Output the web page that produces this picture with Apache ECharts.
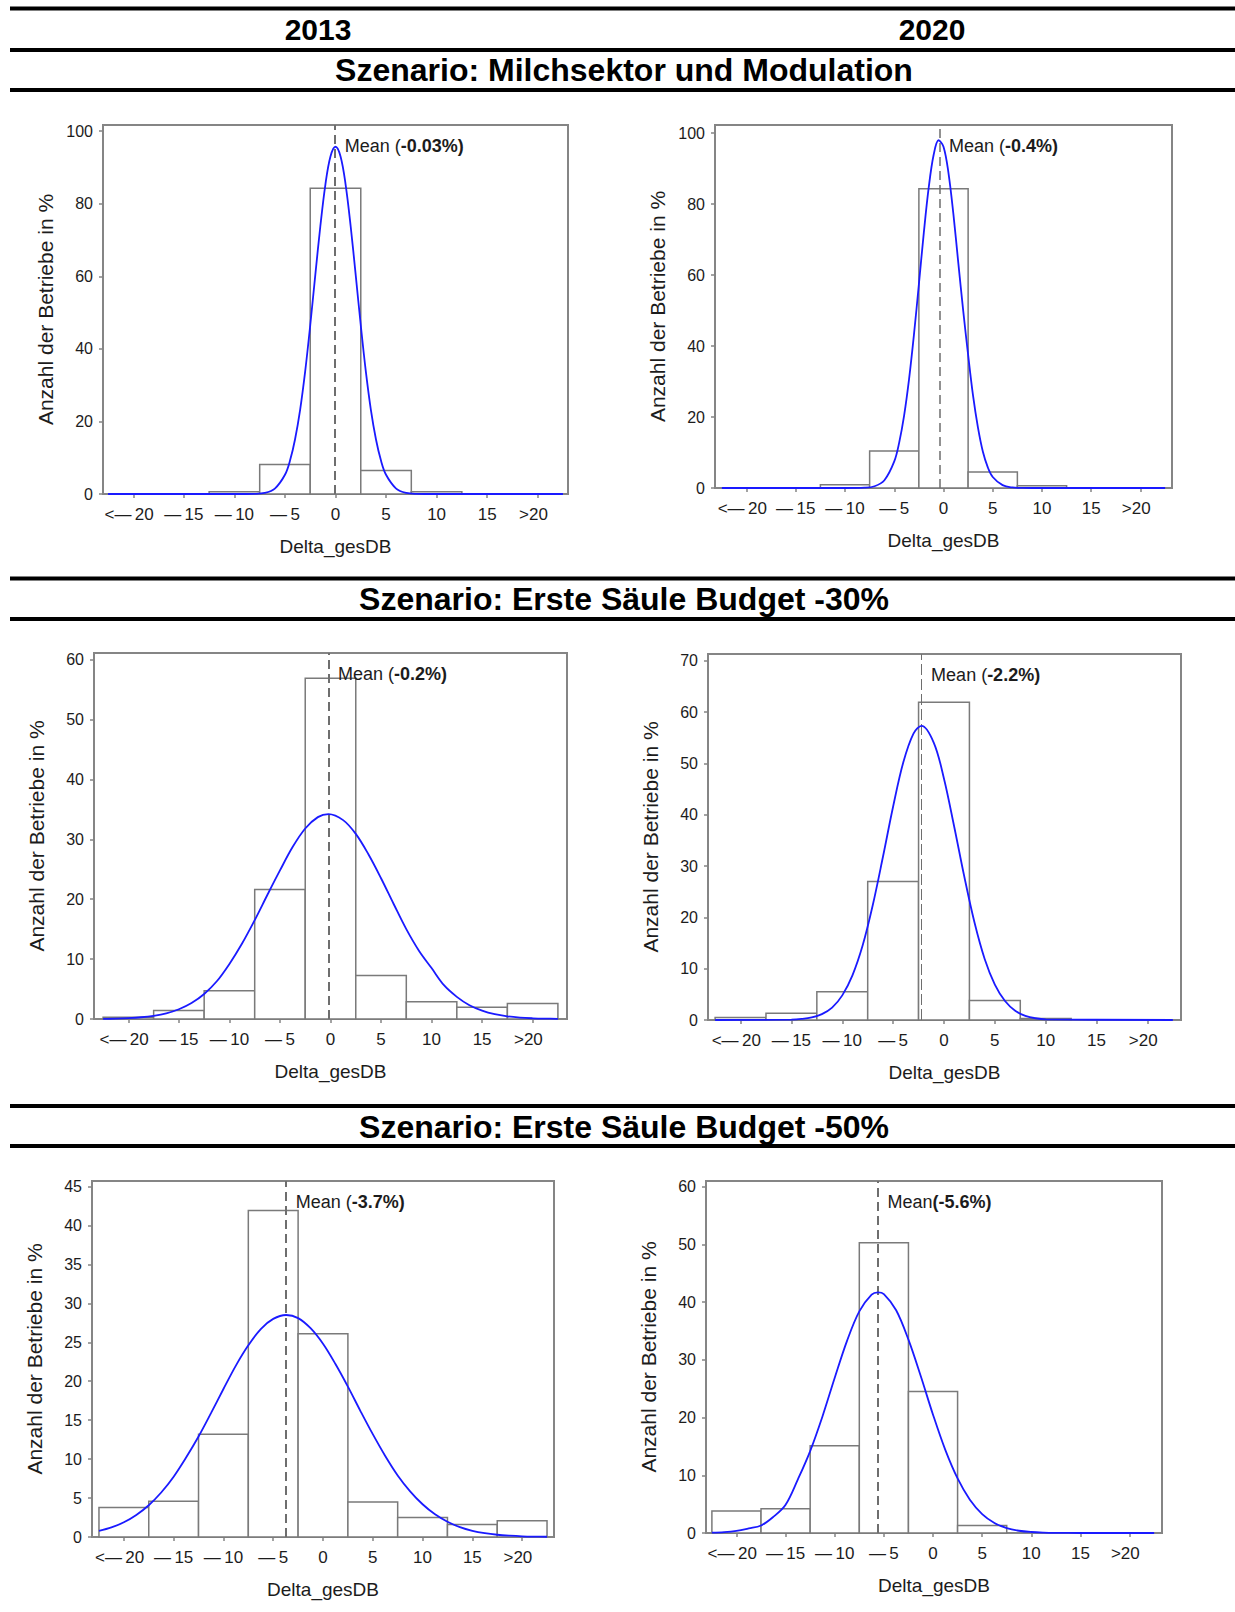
<!DOCTYPE html>
<html>
<head>
<meta charset="utf-8">
<script src="https://cdn.jsdelivr.net/npm/echarts@6/dist/echarts.min.js"></script>
<style>
  html, body { margin: 0; padding: 0; background: #fff; }
  #chart { width: 1235px; height: 1612px; }
</style>
</head>
<body>
<div id="chart"></div>
<script>
// classes of 5 %-points, centre of each class
const binCenters = [-20, -15, -10, -5, 0, 5, 10, 15, 20];
const xTicks = [-20, -15, -10, -5, 0, 5, 10, 15, 20];
const xTickLabels = ['<\u2014\u200920\u2002', '\u2014\u200915', '\u2014\u200910', '\u2014\u20095', '0', '5', '10', '15', '>20\u2002'];
const xTitle = 'Delta_gesDB';
const yTitle = 'Anzahl der Betriebe in %';
const years = ['2013', '2020'];
const scenarios = [
  'Szenario: Milchsektor und Modulation',
  'Szenario: Erste Säule Budget -30%',
  'Szenario: Erste Säule Budget -50%'
];

// share of farms per class (%)
const milch2013 = [0, 0, 0.6, 8.1, 84.3, 6.5, 0.6, 0, 0];
const milch2020 = [0, 0, 0.9, 10.4, 84.3, 4.5, 0.6, 0, 0];
const budget30_2013 = [0.3, 1.4, 4.7, 21.6, 56.9, 7.25, 2.9, 1.95, 2.6];
const budget30_2020 = [0.5, 1.3, 5.5, 27.0, 61.9, 3.8, 0.3, 0, 0];
const budget50_2013 = [3.8, 4.6, 13.2, 41.9, 26.1, 4.5, 2.5, 1.6, 2.1];
const budget50_2020 = [3.8, 4.2, 15.1, 50.3, 24.5, 1.3, 0, 0, 0];

// fitted normal curves
const curveMilch2013X = [-22.5, -10, -8, -7, -6, -5, -4.5, -4, -3.5, -3, -2.5, -2, -1.5, -1, -0.5, 0, 0.5, 1, 1.5, 2, 2.5, 3, 3.5, 4, 4.5, 5, 6, 7, 8, 10, 22.5];
const curveMilch2013Y = [0, 0, 0.05, 0.3, 1.5, 5.3, 9.2, 15.1, 23.2, 33.8, 46.5, 60.3, 73.8, 85.3, 93.0, 95.7, 93.0, 85.3, 73.8, 60.3, 46.5, 33.8, 23.2, 15.1, 9.2, 5.3, 1.5, 0.3, 0.05, 0, 0];
const curveMilch2020X = [-22.5, -10, -8, -7, -6, -5, -4.5, -4, -3.5, -3, -2.5, -2, -1.5, -1, -0.5, 0, 0.5, 1, 1.5, 2, 2.5, 3, 3.5, 4, 4.5, 5, 6, 7, 8, 10, 22.5];
const curveMilch2020Y = [0, 0, 0.09, 0.5, 2.2, 7.5, 12.8, 20.4, 30.6, 43.2, 57.4, 71.9, 84.7, 93.9, 98.0, 96.2, 88.9, 77.3, 63.5, 50.0, 37.5, 26.0, 17.0, 10.2, 5.8, 3.1, 0.8, 0.15, 0.02, 0, 0];
const curveB30_2013X = [-22.5, -21.25, -20, -18.75, -17.5, -16.25, -15, -13.75, -12.5, -11.25, -10, -8.75, -7.5, -6.25, -5, -3.75, -2.5, -1.25, -0.2, 1.25, 2.5, 3.75, 5, 6.25, 7.5, 8.75, 10, 11.25, 12.5, 13.75, 15, 16.25, 17.5, 18.75, 20, 21.25, 22.5];
const curveB30_2013Y = [0.03, 0.07, 0.15, 0.29, 0.54, 0.95, 1.63, 2.67, 4.18, 6.3, 9.2, 12.6, 16.5, 20.7, 24.8, 28.7, 31.8, 33.7, 34.2, 33.2, 30.9, 27.5, 23.5, 19.2, 15.0, 11.4, 8.5, 5.6, 3.7, 2.3, 1.4, 0.8, 0.44, 0.23, 0.12, 0.06, 0.03];
const curveB30_2020X = [-22.5, -15, -14, -13, -12, -11, -10, -9, -8, -7, -6, -5, -4, -3, -2.2, -1, 0, 1, 2, 3, 4, 5, 6, 7, 8, 9, 10, 22.5];
const curveB30_2020Y = [0, 0.07, 0.2, 0.49, 1.14, 2.4, 4.8, 8.7, 14.5, 22.4, 31.8, 41.6, 50.2, 55.8, 57.3, 54.0, 47.0, 37.7, 27.9, 19.0, 11.9, 6.9, 3.7, 1.8, 0.82, 0.34, 0.13, 0];
const curveB50_2013X = [-22.5, -21.25, -20, -18.75, -17.5, -16.25, -15, -13.75, -12.5, -11.25, -10, -8.75, -7.5, -6.25, -5, -3.7, -2.5, -1.25, 0, 1.25, 2.5, 3.75, 5, 6.25, 7.5, 8.75, 10, 11.25, 12.5, 13.75, 15, 16.25, 17.5, 18.75, 20, 21.25, 22.5];
const curveB50_2013Y = [0.78, 1.23, 1.89, 2.83, 4.08, 5.71, 7.74, 10.2, 12.9, 15.9, 19.0, 22.0, 24.6, 26.7, 28.0, 28.5, 28.1, 26.8, 24.8, 22.2, 19.3, 16.2, 13.2, 10.4, 7.9, 5.86, 4.2, 2.91, 1.96, 1.27, 0.8, 0.49, 0.29, 0.17, 0.09, 0.05, 0.03];
const curveB50_2020X = [-22.5, -21.25, -20, -18.75, -17.5, -16.25, -15, -13.75, -12.5, -11.25, -10, -8.75, -7.5, -6.25, -5.6, -5, -3.75, -2.5, -1.25, 0, 1.25, 2.5, 3.75, 5, 6.25, 7.5, 8.75, 10, 11.25, 12.5, 15, 22.5];
const curveB50_2020Y = [0.07, 0.16, 0.38, 0.8, 1.3, 2.8, 4.9, 9.3, 14.2, 20.2, 26.9, 33.3, 38.4, 41.3, 41.7, 41.4, 38.6, 33.5, 27.2, 20.5, 14.4, 9.45, 5.76, 3.28, 1.74, 0.86, 0.39, 0.17, 0.07, 0.03, 0, 0];

const means = [-0.03, -0.4, -0.2, -2.2, -3.7, -5.6];
const meanTexts = [['Mean (', '-0.03%)'], ['Mean (', '-0.4%)'], ['Mean (', '-0.2%)'], ['Mean (', '-2.2%)'], ['Mean (', '-3.7%)'], ['Mean', '(-5.6%)']];

const FONT = '"Liberation Sans", Arial, Helvetica, sans-serif';
const TEXT = '#1c1c1c';
const GRAY = '#858585';
const BLUE = '#1a1aff';
const BIN = 5;

// panel layout: [left, top, width, height]
const panels = [
  { box: [103, 125, 465, 369], x: [-23, 23], yMax: 101.7, yTicks: [0, 20, 40, 60, 80, 100], bars: milch2013, cx: curveMilch2013X, cy: curveMilch2013Y, dash: [9, 5], dashW: 2 },
  { box: [715, 125, 457, 363], x: [-23.2, 23.2], yMax: 102.3, yTicks: [0, 20, 40, 60, 80, 100], bars: milch2020, cx: curveMilch2020X, cy: curveMilch2020Y, dash: [9, 5], dashW: 1.5 },
  { box: [94, 653, 473, 366], x: [-23.4, 23.4], yMax: 61.1, yTicks: [0, 10, 20, 30, 40, 50, 60], bars: budget30_2013, cx: curveB30_2013X, cy: curveB30_2013Y, dash: [9, 5], dashW: 2 },
  { box: [708, 654, 473, 366], x: [-23.2, 23.3], yMax: 71.3, yTicks: [0, 10, 20, 30, 40, 50, 60, 70], bars: budget30_2020, cx: curveB30_2020X, cy: curveB30_2020Y, dash: [11, 4], dashW: 1 },
  { box: [92, 1181, 462, 356], x: [-23.2, 23.2], yMax: 45.7, yTicks: [0, 5, 10, 15, 20, 25, 30, 35, 40, 45], bars: budget50_2013, cx: curveB50_2013X, cy: curveB50_2013Y, dash: [9, 5], dashW: 2 },
  { box: [706, 1181, 456, 352], x: [-23.1, 23.3], yMax: 61.0, yTicks: [0, 10, 20, 30, 40, 50, 60], bars: budget50_2020, cx: curveB50_2020X, cy: curveB50_2020Y, dash: [9, 5], dashW: 2 }
];

function renderBar(params, api) {
  const x = api.value(0);
  const y = api.value(1);
  if (!y) return null;
  const a = api.coord([x - BIN / 2, y]);
  const b = api.coord([x + BIN / 2, 0]);
  return {
    type: 'rect',
    shape: { x: a[0], y: a[1], width: b[0] - a[0], height: b[1] - a[1] },
    style: { fill: '#fff', stroke: '#7a7a7a', lineWidth: 1.5 }
  };
}

const option = {
  animation: false,
  backgroundColor: '#fff',
  grid: [],
  xAxis: [],
  yAxis: [],
  series: [],
  graphic: []
};

panels.forEach((p, i) => {
  option.grid.push({
    left: p.box[0], top: p.box[1], width: p.box[2], height: p.box[3],
    show: true, borderColor: GRAY, borderWidth: 2, backgroundColor: 'transparent',
    containLabel: false, outerBoundsMode: 'none'
  });
  option.xAxis.push({
    type: 'value', gridIndex: i, min: p.x[0], max: p.x[1],
    name: xTitle, nameLocation: 'middle', nameGap: 43,
    nameTextStyle: { fontFamily: FONT, fontSize: 19, color: TEXT },
    axisLine: { show: true, onZero: false, lineStyle: { color: GRAY, width: 2 } },
    axisTick: { show: true, length: 4, customValues: xTicks, lineStyle: { color: GRAY, width: 1.5 } },
    axisLabel: {
      customValues: xTicks, margin: 12, fontFamily: FONT, fontSize: 17, color: TEXT,
      formatter: v => xTickLabels[xTicks.indexOf(v)]
    },
    splitLine: { show: false }
  });
  option.yAxis.push({
    type: 'value', gridIndex: i, min: 0, max: p.yMax,
    name: yTitle, nameLocation: 'middle', nameGap: 47,
    nameTextStyle: { fontFamily: FONT, fontSize: 21, color: TEXT },
    axisLine: { show: true, onZero: false, lineStyle: { color: GRAY, width: 2 } },
    axisTick: { show: true, length: 4, customValues: p.yTicks, lineStyle: { color: GRAY, width: 1.5 } },
    axisLabel: { customValues: p.yTicks, margin: 10, fontFamily: FONT, fontSize: 16, color: TEXT },
    splitLine: { show: false }
  });
  option.series.push({
    type: 'custom', xAxisIndex: i, yAxisIndex: i, silent: true, z: 2,
    renderItem: renderBar,
    data: binCenters.map((x, k) => [x, p.bars[k]])
  });
  option.series.push({
    type: 'line', xAxisIndex: i, yAxisIndex: i, silent: true, z: 5,
    data: p.cx.map((x, k) => [x, p.cy[k]]),
    showSymbol: false, smooth: 0.35,
    lineStyle: { color: BLUE, width: 1.8 },
    markLine: {
      silent: true, symbol: 'none', z: 3,
      lineStyle: { color: '#6e6e6e', width: p.dashW, type: p.dash },
      label: { show: false },
      data: [{ xAxis: means[i] }]
    },
    markPoint: {
      silent: true, symbol: 'circle', symbolSize: 1,
      itemStyle: { color: 'rgba(0,0,0,0)' },
      label: {
        show: true, position: 'right', distance: 9, offset: [0, 21],
        formatter: '{n|' + meanTexts[i][0] + '}{b|' + meanTexts[i][1] + '}',
        rich: {
          n: { fontFamily: FONT, fontSize: 18, color: TEXT },
          b: { fontFamily: FONT, fontSize: 18, fontWeight: 'bold', color: TEXT }
        }
      },
      data: [{ coord: [means[i], p.yMax] }]
    }
  });
});

// header rules and captions
[8.5, 50, 90, 578.5, 619, 1106, 1146].forEach(y => {
  option.graphic.push({ type: 'rect', shape: { x: 10, y: y - 2, width: 1225, height: 4 }, style: { fill: '#000' }, silent: true });
});
option.graphic.push({ type: 'text', x: 318, y: 29, style: { text: years[0], font: 'bold 30px ' + FONT, fill: '#000', align: 'center', verticalAlign: 'middle' } });
option.graphic.push({ type: 'text', x: 932, y: 29, style: { text: years[1], font: 'bold 30px ' + FONT, fill: '#000', align: 'center', verticalAlign: 'middle' } });
[70, 599, 1127].forEach((y, k) => {
  option.graphic.push({ type: 'text', x: 624, y: y, style: { text: scenarios[k], font: 'bold 32px ' + FONT, fill: '#000', align: 'center', verticalAlign: 'middle' } });
});

const chart = echarts.init(document.getElementById('chart'), null, { renderer: 'svg' });
chart.setOption(option);
</script>
</body>
</html>
